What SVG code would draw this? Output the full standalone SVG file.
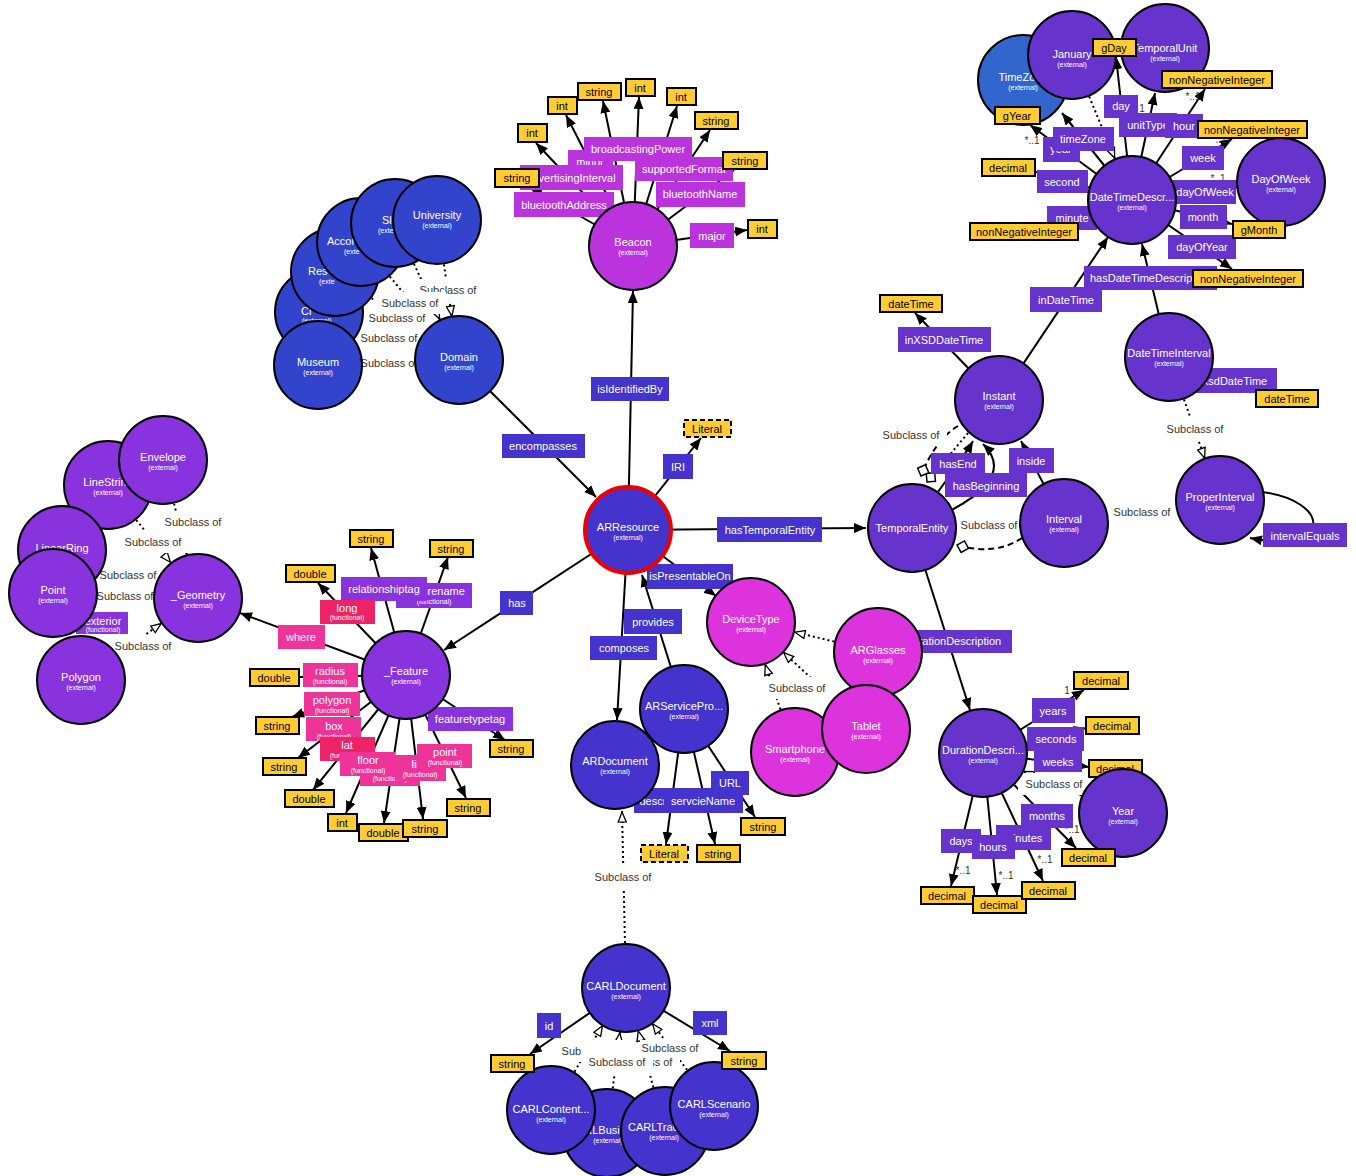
<svg xmlns="http://www.w3.org/2000/svg" width="1356" height="1176" viewBox="0 0 1356 1176">
<style>
text{font-family:"Liberation Sans",Arial,sans-serif}
.c{stroke:#000;stroke-width:2}
.ti{fill:#fff;font-size:11px;text-anchor:middle}
.tis{fill:#fff;font-size:11px}
.ex{fill:#fff;font-size:7px;text-anchor:middle}
.exs{fill:#fff;font-size:7px}
.dr{fill:#fc3;stroke:#000;stroke-width:2}
.dl{fill:#fc3;stroke:#000;stroke-width:2;stroke-dasharray:5,3}
.dt{fill:#000;font-size:11px;text-anchor:middle}
.pt{fill:#fff;font-size:11px;text-anchor:middle}
.pf{fill:#fff;font-size:7px;text-anchor:middle}
.ln{stroke:#000;stroke-width:2;fill:none}
.sb{stroke-dasharray:2,3}
.ds{stroke-dasharray:6,4}
.sr{fill:#fff}
.st{fill:#333;font-size:11px;text-anchor:middle}
.cd{fill:#333;font-size:10px;text-anchor:middle}
.b1{fill:#3344cc}.b2{fill:#4433cc}.b3{fill:#6633cc}.b4{fill:#8833dd}.b5{fill:#bb33dd}.b6{fill:#dd33dd}.b7{fill:#3366cc}.pk{fill:#ee3399}.rd{fill:#ee2266}
</style>
<defs>
<marker id="a" viewBox="0 0 12 10" refX="12" refY="5" markerWidth="12" markerHeight="10" markerUnits="userSpaceOnUse" orient="auto"><path d="M0,0L12,5L0,10z" fill="#000"/></marker>
<marker id="h" viewBox="0 0 12 10" refX="12" refY="5" markerWidth="12" markerHeight="10" markerUnits="userSpaceOnUse" orient="auto"><path d="M1,1L11,5L1,9z" fill="#fff" stroke="#000" stroke-width="1.3"/></marker>
<marker id="dm" viewBox="0 0 14 14" refX="13" refY="7" markerWidth="14" markerHeight="14" markerUnits="userSpaceOnUse" orient="auto"><path d="M1,7L7,1L13,7L7,13z" fill="#fff" stroke="#000" stroke-width="1.5"/></marker>
</defs>
<rect width="1356" height="1176" fill="#fff"/>

<g id="connectors">
<g class="ln sb" marker-end="url(#h)">
<path d="M437,220L452,317"/>
<path d="M395,223L440,320"/>
<path d="M361,242L431,326"/>
<path d="M335,272L423,335"/>
<path d="M319,312L417,346"/>
<path d="M318,365L415,362"/>
<path d="M163,460L187,555"/>
<path d="M108,485L171,563"/>
<path d="M62,550L157,583"/>
<path d="M53,593L154,596"/>
<path d="M81,680L162,623"/>
<path d="M878,652L794,632"/>
<path d="M795,752L765,664"/>
<path d="M866,729L783,652"/>
<path d="M626,988L622,811"/>
<path d="M551,1110L603,1025"/>
<path d="M607,1133L620,1032"/>
<path d="M665,1131L638,1030"/>
<path d="M714,1106L652,1023"/>
<path d="M1072,55L1115,159"/>
<path d="M1169,357L1205,459"/>
<path d="M1220,500L1108,517"/>
<path d="M1123,813L1023,771"/>
</g>
<path class="ln sb" d="M968,433L927,482" marker-end="url(#dm)"/>
<path class="ln ds" d="M958,426Q935,440 921,476" marker-end="url(#dm)"/>
<path class="ln ds" d="M1022,538Q995,556 957,545" marker-end="url(#dm)"/>
<g class="ln" marker-end="url(#a)">
<path d="M459,360L596,497"/>
<path d="M628,530L633,291"/>
<path d="M628,530L701,438"/>
<path d="M628,530L866,528"/>
<path d="M628,530L716,596"/>
<path d="M684,709L642,575"/>
<path d="M628,530L617,720"/>
<path d="M628,530L444,650"/>
<path d="M684,709L666,844"/>
<path d="M684,709L715,844"/>
<path d="M684,709L755,817"/>
<path d="M626,988L530,1054"/>
<path d="M626,988L730,1051"/>
<path d="M633,246L530,188"/>
<path d="M633,246L536,143"/>
<path d="M633,246L566,115"/>
<path d="M633,246L603,101"/>
<path d="M633,246L639,97"/>
<path d="M633,246L677,106"/>
<path d="M633,246L710,130"/>
<path d="M633,246L734,170"/>
<path d="M633,246L747,230"/>
<path d="M406,675L371,548"/>
<path d="M406,675L448,557"/>
<path d="M406,675L318,583"/>
<path d="M406,675L240,613"/>
<path d="M406,675L300,677"/>
<path d="M406,675L292,717"/>
<path d="M406,675L298,758"/>
<path d="M406,675L313,790"/>
<path d="M406,675L346,813"/>
<path d="M406,675L384,823"/>
<path d="M406,675L423,819"/>
<path d="M406,675L466,798"/>
<path d="M406,675L505,740"/>
<path d="M1132,200L1116,57"/>
<path d="M1132,200L1155,93"/>
<path d="M1132,200L1205,89"/>
<path d="M1132,200L1232,139"/>
<path d="M1132,200L1237,187"/>
<path d="M1132,200L1232,224"/>
<path d="M1132,200L1232,269"/>
<path d="M1132,200L1078,224"/>
<path d="M1132,200L1036,172"/>
<path d="M1132,200L1030,125"/>
<path d="M1132,200L1062,113"/>
<path d="M999,400L915,313"/>
<path d="M999,400L1108,237"/>
<path d="M1169,357L1142,244"/>
<path d="M1169,357L1268,390"/>
<path d="M912,528Q965,455 973,441"/>
<path d="M912,528Q1024,484 983,444"/>
<path d="M912,528L970,710"/>
<path d="M1064,523L1021,441"/>
<path d="M1262,492C1330,500 1335,555 1250,538"/>
<path d="M983,753L1084,690"/>
<path d="M983,753L1086,728"/>
<path d="M983,753L1089,767"/>
<path d="M983,753L1076,848"/>
<path d="M983,753L1043,881"/>
<path d="M983,753L997,895"/>
<path d="M983,753L951,886"/>
</g>
<g>
<rect class="sr" x="412" y="279" width="72" height="22"/><text class="st" x="448" y="294">Subclass of</text>
<rect class="sr" x="374" y="292" width="72" height="22"/><text class="st" x="410" y="307">Subclass of</text>
<rect class="sr" x="361" y="307" width="72" height="22"/><text class="st" x="397" y="322">Subclass of</text>
<rect class="sr" x="353" y="327" width="72" height="22"/><text class="st" x="389" y="342">Subclass of</text>
<rect class="sr" x="353" y="352" width="72" height="22"/><text class="st" x="389" y="367">Subclass of</text>
<rect class="sr" x="157" y="511" width="72" height="22"/><text class="st" x="193" y="526">Subclass of</text>
<rect class="sr" x="117" y="531" width="72" height="22"/><text class="st" x="153" y="546">Subclass of</text>
<rect class="sr" x="92" y="564" width="72" height="22"/><text class="st" x="128" y="579">Subclass of</text>
<rect class="sr" x="89" y="585" width="72" height="22"/><text class="st" x="125" y="600">Subclass of</text>
<rect class="sr" x="107" y="635" width="72" height="22"/><text class="st" x="143" y="650">Subclass of</text>
<rect class="sr" x="761" y="677" width="72" height="22"/><text class="st" x="797" y="692">Subclass of</text>
<rect class="sr" x="587" y="866" width="72" height="22"/><text class="st" x="623" y="881">Subclass of</text>
<rect class="sr" x="554" y="1040" width="72" height="22"/><text class="st" x="590" y="1055">Subclass of</text>
<rect class="sr" x="608" y="1051" width="72" height="22"/><text class="st" x="644" y="1066">Subclass of</text>
<rect class="sr" x="581" y="1044" width="72" height="30"/><text class="st" x="617" y="1066">Subclass of</text>
<rect class="sr" x="640" y="1040" width="62" height="17"/><text class="st" x="670" y="1052">Subclass of</text>
<rect class="sr" x="875" y="424" width="72" height="22"/><text class="st" x="911" y="439">Subclass of</text>
<rect class="sr" x="953" y="514" width="72" height="22"/><text class="st" x="989" y="529">Subclass of</text>
<rect class="sr" x="1106" y="501" width="72" height="22"/><text class="st" x="1142" y="516">Subclass of</text>
<rect class="sr" x="1159" y="418" width="72" height="22"/><text class="st" x="1195" y="433">Subclass of</text>
<rect class="sr" x="1018" y="773" width="72" height="22"/><text class="st" x="1054" y="788">Subclass of</text>
</g>
<g>
<text class="cd" x="1032" y="144">*..1</text>
<text class="cd" x="1142" y="112">1</text>
<text class="cd" x="1193" y="100">*..1</text>
<text class="cd" x="1219" y="143">*..1</text>
<text class="cd" x="1218" y="182">*..1</text>
<text class="cd" x="1067" y="694">1</text>
<text class="cd" x="1072" y="833">*..1</text>
<text class="cd" x="963" y="874">*..1</text>
<text class="cd" x="1006" y="879">*..1</text>
<text class="cd" x="1045" y="863">*..1</text>
</g>
<g>
<rect class="b5" x="568" y="150" width="45" height="24"/><text class="pt" x="590" y="166">minor</text>
<rect class="b5" x="584" y="137" width="108" height="24"/><text class="pt" x="638" y="153">broadcastingPower</text>
<rect class="b5" x="520" y="165" width="103" height="25"/><text class="pt" x="571" y="182">advertisingInterval</text>
<rect class="b5" x="635" y="157" width="98" height="24"/><text class="pt" x="684" y="173">supportedFormat</text>
<rect class="b5" x="656" y="182" width="89" height="25"/><text class="pt" x="700" y="198">bluetoothName</text>
<rect class="b5" x="514" y="192" width="100" height="25"/><text class="pt" x="564" y="209">bluetoothAddress</text>
<rect class="b5" x="690" y="223" width="44" height="25"/><text class="pt" x="712" y="240">major</text>

<rect class="b4" x="396" y="583" width="76" height="25"/><text class="pt" x="434" y="595">featurename</text><text class="pf" x="434" y="604">(functional)</text>
<rect class="b4" x="341" y="577" width="86" height="24"/><text class="pt" x="384" y="593">relationshiptag</text>
<rect class="rd" x="320" y="600" width="55" height="24"/><text class="pt" x="347" y="612">long</text><text class="pf" x="347" y="620">(functional)</text>
<rect class="pk" x="278" y="625" width="47" height="24"/><text class="pt" x="301" y="641">where</text>
<rect class="pk" x="303" y="663" width="55" height="24"/><text class="pt" x="330" y="675">radius</text><text class="pf" x="330" y="684">(functional)</text>
<rect class="pk" x="304" y="692" width="56" height="24"/><text class="pt" x="332" y="704">polygon</text><text class="pf" x="332" y="713">(functional)</text>
<rect class="pk" x="306" y="717" width="55" height="24"/><text class="pt" x="334" y="730">box</text><text class="pf" x="334" y="739">(functional)</text>
<rect class="rd" x="320" y="737" width="55" height="24"/><text class="pt" x="347" y="749">lat</text><text class="pf" x="347" y="758">(functional)</text>
<rect class="pk" x="360" y="762" width="60" height="24"/><text class="pf" x="390" y="781">(functional)</text>
<rect class="pk" x="340" y="752" width="55" height="24"/><text class="pt" x="368" y="764">floor</text><text class="pf" x="368" y="773">(functional)</text>
<rect class="pk" x="395" y="755" width="51" height="26"/><text class="pt" x="420" y="768">line</text><text class="pf" x="420" y="777">(functional)</text>
<rect class="pk" x="417" y="744" width="55" height="24"/><text class="pt" x="445" y="756">point</text><text class="pf" x="445" y="765">(functional)</text>
<rect class="b4" x="428" y="707" width="85" height="24"/><text class="pt" x="470" y="723">featuretypetag</text>
<rect class="b4" x="76" y="612" width="52" height="22"/><text class="pt" x="103" y="625">exterior</text><text class="pf" x="103" y="632">(functional)</text>

<rect class="b2" x="502" y="434" width="83" height="24"/><text class="pt" x="543" y="450">encompasses</text>
<rect class="b2" x="591" y="377" width="78" height="24"/><text class="pt" x="630" y="393">isIdentifiedBy</text>
<rect class="b2" x="663" y="454" width="30" height="25"/><text class="pt" x="678" y="471">IRI</text>
<rect class="b2" x="717" y="517" width="105" height="25"/><text class="pt" x="770" y="534">hasTemporalEntity</text>
<rect class="b2" x="647" y="564" width="86" height="25"/><text class="pt" x="690" y="580">isPresentableOn</text>
<rect class="b2" x="624" y="609" width="58" height="25"/><text class="pt" x="653" y="626">provides</text>
<rect class="b2" x="590" y="636" width="67" height="24"/><text class="pt" x="624" y="652">composes</text>
<rect class="b2" x="500" y="591" width="33" height="24"/><text class="pt" x="517" y="607">has</text>
<rect class="b2" x="711" y="771" width="38" height="24"/><text class="pt" x="730" y="787">URL</text>
<rect class="b2" x="634" y="788" width="64" height="25"/><text class="pt" x="666" y="805">description</text>
<rect class="b2" x="664" y="788" width="79" height="25"/><text class="pt" x="703" y="805">servcieName</text>
<rect class="b2" x="537" y="1013" width="24" height="25"/><text class="pt" x="549" y="1030">id</text>
<rect class="b2" x="693" y="1011" width="34" height="24"/><text class="pt" x="710" y="1027">xml</text>

<rect class="b3" x="1104" y="95" width="34" height="23"/><text class="pt" x="1121" y="110">day</text>
<rect class="b3" x="1119" y="113" width="58" height="24"/><text class="pt" x="1148" y="129">unitType</text>
<rect class="b3" x="1165" y="114" width="38" height="24"/><text class="pt" x="1184" y="130">hour</text>
<rect class="b3" x="1043" y="137" width="37" height="25"/><text class="pt" x="1061" y="153">year</text>
<rect class="b3" x="1053" y="127" width="61" height="24"/><text class="pt" x="1083" y="143">timeZone</text>
<rect class="b3" x="1182" y="146" width="42" height="24"/><text class="pt" x="1203" y="162">week</text>
<rect class="b3" x="1037" y="170" width="51" height="23"/><text class="pt" x="1062" y="186">second</text>
<rect class="b3" x="1173" y="180" width="63" height="24"/><text class="pt" x="1205" y="196">dayOfWeek</text>
<rect class="b3" x="1047" y="206" width="50" height="24"/><text class="pt" x="1072" y="222">minute</text>
<rect class="b3" x="1180" y="205" width="47" height="24"/><text class="pt" x="1203" y="221">month</text>
<rect class="b3" x="1168" y="235" width="68" height="24"/><text class="pt" x="1202" y="251">dayOfYear</text>
<rect class="b3" x="1084" y="266" width="133" height="24"/><text class="pt" x="1150" y="282">hasDateTimeDescription</text>
<rect class="b3" x="1030" y="287" width="72" height="25"/><text class="pt" x="1066" y="304">inDateTime</text>
<rect class="b3" x="898" y="327" width="93" height="25"/><text class="pt" x="944" y="344">inXSDDateTime</text>
<rect class="b3" x="1180" y="368" width="97" height="25"/><text class="pt" x="1235" y="385">xsdDateTime</text>
<rect class="b3" x="931" y="453" width="54" height="21"/><text class="pt" x="958" y="468">hasEnd</text>
<rect class="b3" x="945" y="473" width="82" height="24"/><text class="pt" x="986" y="490">hasBeginning</text>
<rect class="b3" x="1009" y="448" width="45" height="25"/><text class="pt" x="1031" y="465">inside</text>
<rect class="b3" x="1263" y="523" width="84" height="24"/><text class="pt" x="1305" y="540">intervalEquals</text>
<rect class="b3" x="876" y="630" width="136" height="23"/><text class="pt" x="944" y="645">hasDurationDescription</text>
<rect class="b3" x="1032" y="698" width="43" height="25"/><text class="pt" x="1053" y="715">years</text>
<rect class="b3" x="1027" y="727" width="57" height="24"/><text class="pt" x="1056" y="743">seconds</text>
<rect class="b3" x="1034" y="751" width="48" height="21"/><text class="pt" x="1058" y="766">weeks</text>
<rect class="b3" x="1021" y="804" width="52" height="24"/><text class="pt" x="1047" y="820">months</text>
<rect class="b3" x="996" y="825" width="55" height="25"/><text class="pt" x="1023" y="842">minutes</text>
<rect class="b3" x="941" y="829" width="40" height="24"/><text class="pt" x="961" y="845">days</text>
<rect class="b3" x="972" y="835" width="43" height="24"/><text class="pt" x="993" y="851">hours</text>
</g>
</g>

<g id="nodes">
<g id="n-ci"><circle class="c b1" cx="319" cy="312" r="44"/><text class="tis" x="301" y="315">Ci</text><text class="exs" x="302" y="323">(external)</text></g>
<g id="n-museum"><circle class="c b1" cx="318" cy="365" r="44"/><text class="ti" x="318" y="366">Museum</text><text class="ex" x="318" y="375">(external)</text></g>
<g id="n-res"><circle class="c b1" cx="335" cy="272" r="44"/><text class="tis" x="308" y="275">Res</text><text class="exs" x="319" y="284">(exte</text></g>
<g id="n-accor"><circle class="c b1" cx="361" cy="242" r="44"/><text class="tis" x="327" y="245">Accor</text><text class="exs" x="344" y="254">(exte</text></g>
<g id="n-sl"><circle class="c b1" cx="395" cy="223" r="44"/><text class="tis" x="382" y="224">Sl</text><text class="exs" x="378" y="233">(exte</text></g>
<g id="n-university"><circle class="c b1" cx="437" cy="220" r="44"/><text class="ti" x="437" y="219">University</text><text class="ex" x="437" y="228">(external)</text></g>
<g id="n-domain"><circle class="c b1" cx="459" cy="360" r="44"/><text class="ti" x="459" y="361">Domain</text><text class="ex" x="459" y="370">(external)</text></g>

<g id="n-linestring"><circle class="c b4" cx="108" cy="485" r="44"/><text class="ti" x="108" y="486">LineString</text><text class="ex" x="108" y="495">(external)</text></g>
<g id="n-envelope"><circle class="c b4" cx="163" cy="460" r="44"/><text class="ti" x="163" y="461">Envelope</text><text class="ex" x="163" y="470">(external)</text></g>
<g id="n-linearring"><circle class="c b4" cx="62" cy="550" r="44"/><text class="ti" x="62" y="552">LinearRing</text></g>
<g id="n-point"><circle class="c b4" cx="53" cy="593" r="44"/><text class="ti" x="53" y="594">Point</text><text class="ex" x="53" y="603">(external)</text></g>
<g id="n-polygon"><circle class="c b4" cx="81" cy="680" r="44"/><text class="ti" x="81" y="681">Polygon</text><text class="ex" x="81" y="690">(external)</text></g>
<g id="n-geometry"><circle class="c b4" cx="198" cy="598" r="44"/><text class="ti" x="198" y="599">_Geometry</text><text class="ex" x="198" y="608">(external)</text></g>
<g id="n-feature"><circle class="c b4" cx="406" cy="675" r="44"/><text class="ti" x="406" y="675">_Feature</text><text class="ex" x="406" y="684">(external)</text></g>

<g id="n-beacon"><circle class="c b5" cx="633" cy="246" r="44"/><text class="ti" x="633" y="246">Beacon</text><text class="ex" x="633" y="255">(external)</text></g>
<g id="n-arresource"><circle class="b2" cx="628" cy="530" r="43" stroke="#e00" stroke-width="4"/><text class="ti" x="628" y="531">ARResource</text><text class="ex" x="628" y="540">(external)</text></g>

<g id="n-devicetype"><circle class="c b6" cx="751" cy="622" r="44"/><text class="ti" x="751" y="623">DeviceType</text><text class="ex" x="751" y="632">(external)</text></g>
<g id="n-arglasses"><circle class="c b6" cx="878" cy="652" r="44"/><text class="ti" x="878" y="654">ARGlasses</text><text class="ex" x="878" y="663">(external)</text></g>
<g id="n-smartphone"><circle class="c b6" cx="795" cy="752" r="44"/><text class="ti" x="795" y="753">Smartphone</text><text class="ex" x="795" y="762">(external)</text></g>
<g id="n-tablet"><circle class="c b6" cx="866" cy="729" r="44"/><text class="ti" x="866" y="730">Tablet</text><text class="ex" x="866" y="739">(external)</text></g>

<g id="n-arservice"><circle class="c b2" cx="684" cy="709" r="44"/><text class="ti" x="684" y="710">ARServicePro...</text><text class="ex" x="684" y="719">(external)</text></g>
<g id="n-ardocument"><circle class="c b2" cx="615" cy="765" r="44"/><text class="ti" x="615" y="765">ARDocument</text><text class="ex" x="615" y="774">(external)</text></g>

<g id="n-carldocument"><circle class="c b2" cx="626" cy="988" r="44"/><text class="ti" x="626" y="990">CARLDocument</text><text class="ex" x="626" y="999">(external)</text></g>
<g id="n-carlbusi"><circle class="c b2" cx="607" cy="1133" r="44"/><text class="tis" x="569" y="1134">CARLBusi</text><text class="ex" x="608" y="1143">(external)</text></g>
<g id="n-carlcontent"><circle class="c b2" cx="551" cy="1110" r="44"/><text class="ti" x="551" y="1113">CARLContent...</text><text class="ex" x="551" y="1122">(external)</text></g>
<g id="n-carltrac"><circle class="c b2" cx="665" cy="1131" r="44"/><text class="tis" x="628" y="1131">CARLTrac</text><text class="ex" x="664" y="1140">(external)</text></g>
<g id="n-carlscenario"><circle class="c b2" cx="714" cy="1106" r="44"/><text class="ti" x="714" y="1108">CARLScenario</text><text class="ex" x="714" y="1117">(external)</text></g>

<g id="n-timezone"><circle class="c b7" cx="1023" cy="80" r="45"/><text class="ti" x="1023" y="81">TimeZone</text><text class="ex" x="1023" y="90">(external)</text></g>
<g id="n-january"><circle class="c b3" cx="1072" cy="55" r="44"/><text class="ti" x="1072" y="58">January</text><text class="ex" x="1072" y="67">(external)</text></g>
<g id="n-temporalunit"><circle class="c b3" cx="1165" cy="48" r="44"/><text class="ti" x="1165" y="52">TemporalUnit</text><text class="ex" x="1165" y="61">(external)</text></g>
<g id="n-dtd"><circle class="c b3" cx="1132" cy="200" r="44"/><text class="ti" x="1132" y="201">DateTimeDescr...</text><text class="ex" x="1132" y="210">(external)</text></g>
<g id="n-dayofweek"><circle class="c b3" cx="1281" cy="182" r="44"/><text class="ti" x="1281" y="183">DayOfWeek</text><text class="ex" x="1281" y="192">(external)</text></g>
<g id="n-instant"><circle class="c b3" cx="999" cy="400" r="44"/><text class="ti" x="999" y="400">Instant</text><text class="ex" x="999" y="409">(external)</text></g>
<g id="n-dti"><circle class="c b3" cx="1169" cy="357" r="44"/><text class="ti" x="1169" y="357">DateTimeInterval</text><text class="ex" x="1169" y="366">(external)</text></g>
<g id="n-temporalentity"><circle class="c b3" cx="912" cy="528" r="44"/><text class="ti" x="912" y="532">TemporalEntity</text></g>
<g id="n-interval"><circle class="c b3" cx="1064" cy="523" r="44"/><text class="ti" x="1064" y="523">Interval</text><text class="ex" x="1064" y="532">(external)</text></g>
<g id="n-properinterval"><circle class="c b3" cx="1220" cy="500" r="44"/><text class="ti" x="1220" y="501">ProperInterval</text><text class="ex" x="1220" y="510">(external)</text></g>
<g id="n-durdesc"><circle class="c b3" cx="983" cy="753" r="44"/><text class="ti" x="983" y="754">DurationDescri...</text><text class="ex" x="983" y="763">(external)</text></g>

<g id="d1"><rect class="dr" x="495" y="169" width="44" height="18"/><text class="dt" x="517" y="182">string</text></g>
<g id="d2"><rect class="dr" x="518" y="124" width="29" height="18"/><text class="dt" x="532" y="137">int</text></g>
<g id="d3"><rect class="dr" x="548" y="97" width="29" height="17"/><text class="dt" x="562" y="110">int</text></g>
<g id="d4"><rect class="dr" x="578" y="83" width="43" height="17"/><text class="dt" x="599" y="96">string</text></g>
<g id="d5"><rect class="dr" x="626" y="79" width="29" height="17"/><text class="dt" x="640" y="92">int</text></g>
<g id="d6"><rect class="dr" x="667" y="88" width="29" height="17"/><text class="dt" x="681" y="101">int</text></g>
<g id="d7"><rect class="dr" x="695" y="112" width="43" height="17"/><text class="dt" x="716" y="125">string</text></g>
<g id="d8"><rect class="dr" x="723" y="152" width="44" height="17"/><text class="dt" x="745" y="165">string</text></g>
<g id="d9"><rect class="dr" x="748" y="220" width="29" height="18"/><text class="dt" x="762" y="233">int</text></g>
<g id="d10"><rect class="dr" x="350" y="530" width="43" height="17"/><text class="dt" x="371" y="543">string</text></g>
<g id="d11"><rect class="dr" x="430" y="540" width="43" height="17"/><text class="dt" x="451" y="553">string</text></g>
<g id="d12"><rect class="dr" x="286" y="565" width="49" height="17"/><text class="dt" x="310" y="578">double</text></g>
<g id="d13"><rect class="dr" x="250" y="669" width="49" height="17"/><text class="dt" x="274" y="682">double</text></g>
<g id="d14"><rect class="dr" x="256" y="717" width="43" height="17"/><text class="dt" x="277" y="730">string</text></g>
<g id="d15"><rect class="dr" x="263" y="758" width="43" height="17"/><text class="dt" x="284" y="771">string</text></g>
<g id="d16"><rect class="dr" x="285" y="790" width="49" height="17"/><text class="dt" x="309" y="803">double</text></g>
<g id="d17"><rect class="dr" x="328" y="814" width="29" height="17"/><text class="dt" x="342" y="827">int</text></g>
<g id="d18"><rect class="dr" x="359" y="824" width="49" height="17"/><text class="dt" x="383" y="837">double</text></g>
<g id="d19"><rect class="dr" x="403" y="820" width="44" height="17"/><text class="dt" x="425" y="833">string</text></g>
<g id="d20"><rect class="dr" x="447" y="799" width="43" height="17"/><text class="dt" x="468" y="812">string</text></g>
<g id="d21"><rect class="dr" x="490" y="740" width="43" height="17"/><text class="dt" x="511" y="753">string</text></g>
<g id="d22"><rect class="dl" x="684" y="420" width="47" height="17"/><text class="dt" x="707" y="433">Literal</text></g>
<g id="d23"><rect class="dl" x="641" y="845" width="47" height="17"/><text class="dt" x="664" y="858">Literal</text></g>
<g id="d24"><rect class="dr" x="697" y="845" width="43" height="17"/><text class="dt" x="718" y="858">string</text></g>
<g id="d25"><rect class="dr" x="741" y="818" width="44" height="17"/><text class="dt" x="763" y="831">string</text></g>
<g id="d26"><rect class="dr" x="491" y="1055" width="43" height="17"/><text class="dt" x="512" y="1068">string</text></g>
<g id="d27"><rect class="dr" x="722" y="1052" width="44" height="17"/><text class="dt" x="744" y="1065">string</text></g>
<g id="d28"><rect class="dr" x="1093" y="39" width="43" height="17"/><text class="dt" x="1114" y="52">gDay</text></g>
<g id="d29"><rect class="dr" x="1162" y="71" width="110" height="17"/><text class="dt" x="1217" y="84">nonNegativeInteger</text></g>
<g id="d30"><rect class="dr" x="995" y="107" width="45" height="17"/><text class="dt" x="1017" y="120">gYear</text></g>
<g id="d31"><rect class="dr" x="1198" y="121" width="109" height="17"/><text class="dt" x="1252" y="134">nonNegativeInteger</text></g>
<g id="d32"><rect class="dr" x="982" y="159" width="53" height="17"/><text class="dt" x="1008" y="172">decimal</text></g>
<g id="d33"><rect class="dr" x="970" y="223" width="108" height="17"/><text class="dt" x="1024" y="236">nonNegativeInteger</text></g>
<g id="d34"><rect class="dr" x="1233" y="221" width="52" height="17"/><text class="dt" x="1259" y="234">gMonth</text></g>
<g id="d35"><rect class="dr" x="1193" y="270" width="110" height="17"/><text class="dt" x="1248" y="283">nonNegativeInteger</text></g>
<g id="d36"><rect class="dr" x="880" y="295" width="62" height="17"/><text class="dt" x="911" y="308">dateTime</text></g>
<g id="d37"><rect class="dr" x="1256" y="390" width="62" height="17"/><text class="dt" x="1287" y="403">dateTime</text></g>
<g id="d38"><rect class="dr" x="1074" y="672" width="54" height="17"/><text class="dt" x="1101" y="685">decimal</text></g>
<g id="d39"><rect class="dr" x="1086" y="717" width="53" height="17"/><text class="dt" x="1112" y="730">decimal</text></g>
<g id="d40"><rect class="dr" x="1089" y="760" width="53" height="17"/><text class="dt" x="1115" y="773">decimal</text></g>
<g id="n-year"><circle class="c b3" cx="1123" cy="813" r="44"/><text class="ti" x="1123" y="815">Year</text><text class="ex" x="1123" y="824">(external)</text></g>
<g id="d41"><rect class="dr" x="1062" y="849" width="53" height="17"/><text class="dt" x="1088" y="862">decimal</text></g>
<g id="d42"><rect class="dr" x="921" y="887" width="53" height="17"/><text class="dt" x="947" y="900">decimal</text></g>
<g id="d43"><rect class="dr" x="973" y="896" width="53" height="17"/><text class="dt" x="999" y="909">decimal</text></g>
<g id="d44"><rect class="dr" x="1022" y="882" width="53" height="17"/><text class="dt" x="1048" y="895">decimal</text></g>
</g>
</svg>
